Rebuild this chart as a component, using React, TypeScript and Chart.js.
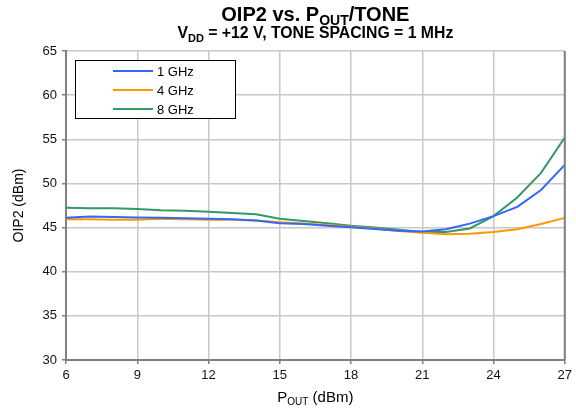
import React, { useEffect, useRef } from "react";
import { Chart, registerables } from "chart.js";

Chart.register(...registerables);

const pout = [6, 7, 8, 9, 10, 11, 12, 13, 14, 15, 16, 17, 18, 19, 20, 21, 22, 23, 24, 25, 26, 27];
const oip2_1GHz = [46.1, 46.25, 46.2, 46.15, 46.1, 46.05, 46.0, 45.95, 45.8, 45.5, 45.4, 45.2, 45.05, 44.85, 44.65, 44.55, 44.8, 45.45, 46.3, 47.35, 49.25, 52.1];
const oip2_4GHz = [45.95, 45.95, 45.9, 45.9, 46.0, 45.95, 45.9, 45.9, 45.8, 45.6, 45.45, 45.3, 45.1, 44.9, 44.6, 44.4, 44.25, 44.3, 44.5, 44.8, 45.4, 46.1];
const oip2_8GHz = [47.25, 47.2, 47.2, 47.1, 46.95, 46.9, 46.8, 46.65, 46.5, 46.0, 45.75, 45.5, 45.2, 45.0, 44.75, 44.5, 44.5, 44.9, 46.3, 48.4, 51.2, 55.2];
const seriesNames = ["1 GHz", "4 GHz", "8 GHz"];
const seriesColors = ["#3366ff", "#ff9900", "#339966"];

const FONT = '"Liberation Sans", Arial, sans-serif';

type Seg = { t: string; sub?: boolean };

function drawSegs(ctx: CanvasRenderingContext2D, segs: Seg[], cx: number, cy: number, size: number, bold: boolean, subRatio = 0.68) {
  const w = bold ? "bold " : "";
  const subSize = Math.round(size * subRatio);
  let total = 0;
  const widths = segs.map((s) => {
    ctx.font = `${w}${s.sub ? subSize : size}px ${FONT}`;
    const m = ctx.measureText(s.t).width;
    total += m;
    return m;
  });
  let x = cx - total / 2;
  ctx.textAlign = "left";
  ctx.textBaseline = "middle";
  segs.forEach((s, i) => {
    ctx.font = `${w}${s.sub ? subSize : size}px ${FONT}`;
    ctx.fillText(s.t, x, s.sub ? cy + size * 0.3 : cy);
    x += widths[i];
  });
}

const textPlugin = {
  id: "texts",
  afterDraw(chart: any) {
    const ctx = chart.ctx as CanvasRenderingContext2D;
    const ca = chart.chartArea;
    ctx.save();
    ctx.fillStyle = "#000";
    const cx = (ca.left + ca.right) / 2;
    drawSegs(ctx, [{ t: "OIP2 vs. P" }, { t: "OUT", sub: true }, { t: "/TONE" }], cx, 15, 20, true);
    drawSegs(ctx, [{ t: "V" }, { t: "DD", sub: true }, { t: " = +12 V, TONE SPACING = 1 MHz" }], cx, 34, 15.8, true);
    drawSegs(ctx, [{ t: "P" }, { t: "OUT", sub: true }, { t: " (dBm)" }], cx, 398, 15, false);
    ctx.save();
    ctx.translate(19, (ca.top + ca.bottom) / 2);
    ctx.rotate(-Math.PI / 2);
    drawSegs(ctx, [{ t: "OIP2 (dBm)" }], 0, 0, 14, false);
    ctx.restore();

    // right border
    ctx.strokeStyle = "#808080";
    ctx.lineWidth = 2;
    ctx.beginPath();
    ctx.moveTo(ca.right, ca.top);
    ctx.lineTo(ca.right, ca.bottom);
    ctx.stroke();

    // legend
    const lx = 75, ly = 60, lw = 160, lh = 58;
    ctx.fillStyle = "#fff";
    ctx.fillRect(lx, ly, lw, lh);
    ctx.strokeStyle = "#000";
    ctx.lineWidth = 1;
    ctx.strokeRect(lx + 0.5, ly + 0.5, lw, lh);
    seriesNames.forEach((n, i) => {
      const y = ly + 11 + i * 19;
      ctx.strokeStyle = seriesColors[i];
      ctx.lineWidth = 2;
      ctx.beginPath();
      ctx.moveTo(113, y);
      ctx.lineTo(153, y);
      ctx.stroke();
      ctx.fillStyle = "#000";
      ctx.font = `13px ${FONT}`;
      ctx.textAlign = "left";
      ctx.textBaseline = "middle";
      ctx.fillText(n, 157, y + 1);
    });
    ctx.restore();
  },
};

export default function App() {
  const ref = useRef<HTMLCanvasElement>(null);
  useEffect(() => {
    const mk = (vals: number[]) => pout.map((x, i) => ({ x, y: vals[i] }));
    const all = [oip2_1GHz, oip2_4GHz, oip2_8GHz];
    const chart = new Chart(ref.current!, {
      type: "line",
      data: {
        datasets: all.map((v, i) => ({
          label: seriesNames[i],
          data: mk(v),
          borderColor: seriesColors[i],
          backgroundColor: seriesColors[i],
          borderWidth: 2,
          pointRadius: 0,
          tension: 0,
        })),
      },
      options: {
        responsive: false,
        animation: false,
        layout: { padding: { top: 51, right: 9, left: 0, bottom: 0 } },
        plugins: { legend: { display: false }, title: { display: false }, tooltip: { enabled: false } },
        scales: {
          x: {
            type: "linear",
            min: 6,
            max: 27,
            ticks: { stepSize: 3, color: "#111", font: { family: FONT, size: 13 }, padding: 4 },
            grid: { color: "#c8c8c8", lineWidth: 1.5, tickLength: 4, tickColor: "#808080" },
            border: { color: "#808080", width: 2 },
            afterFit: (s: any) => { s.height = 53; },
          },
          y: {
            min: 30,
            max: 65,
            ticks: { stepSize: 5, color: "#111", font: { family: FONT, size: 13 }, padding: 5 },
            grid: { color: "#c8c8c8", lineWidth: 1.5, tickLength: 4, tickColor: "#808080" },
            border: { color: "#808080", width: 2 },
            afterFit: (s: any) => { s.width = 66; },
          },
        },
      },
      plugins: [textPlugin],
    });
    return () => chart.destroy();
  }, []);
  return (
    <div style={{ position: "absolute", left: 0, top: 0, width: 576, height: 413, background: "#fff" }}>
      <canvas ref={ref} width={576} height={413} />
    </div>
  );
}
